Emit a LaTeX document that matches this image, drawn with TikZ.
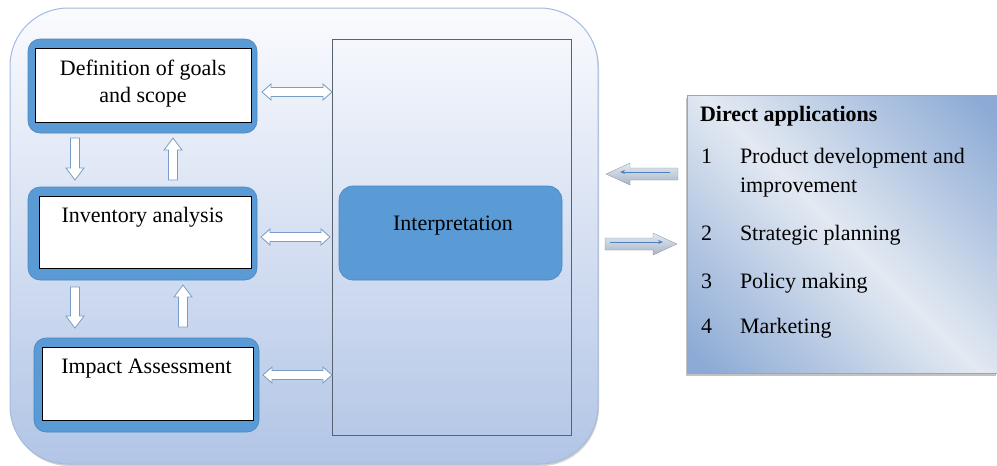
\documentclass[tikz,border=0pt]{standalone}
\usepackage{fontspec}
\setmainfont{Liberation Serif}
\usetikzlibrary{calc,shadows,arrows.meta}

\definecolor{stageblue}{HTML}{5B9BD5}
\definecolor{stagerim}{HTML}{4A86C0}
\definecolor{arrowrim}{HTML}{7A9CC6}
\definecolor{frameline}{HTML}{59636E}
\definecolor{bgtop}{HTML}{FAFBFE}
\definecolor{bgbottom}{HTML}{B2C5E6}
\definecolor{bgrim}{HTML}{A3BADF}
\definecolor{appdark}{HTML}{8CAAD5}
\definecolor{applight}{HTML}{E3E9F2}
\definecolor{appedge}{HTML}{8CA8D2}
\definecolor{flattop}{HTML}{E4EAF2}
\definecolor{flatbottom}{HTML}{A7B4C7}
\definecolor{flatline}{HTML}{4F81BD}

% diagonal fade for the applications panel: dark corners, light band
\pgfdeclarehorizontalshading{appfade}{100bp}{color(0bp)=(appdark); color(17bp)=(appdark); color(50bp)=(applight); color(83bp)=(appdark); color(100bp)=(appdark)}

\tikzset{
  every node/.style={inner sep=0pt, outer sep=0pt},
  stagebox/.style={draw=stagerim, line width=0.6pt, fill=stageblue,
    rounded corners=12pt, anchor=north west},
  stagecard/.style={draw=black, line width=1pt, fill=white, anchor=north west},
  stagetext/.style={anchor=base},
  apptext/.style={anchor=base west},
  % hollow double-headed block arrow between two points at the same height
  dblblock/.style={draw=arrowrim, line width=0.8pt, fill=white,
    to path={let \p1=(\tikztostart), \p2=(\tikztotarget) in
      (\x1,\y1) -- (\x1+9pt,\y1+8pt) -- (\x1+9pt,\y1+4.5pt) -- (\x2-9pt,\y1+4.5pt)
      -- (\x2-9pt,\y1+8pt) -- (\x2,\y1) -- (\x2-9pt,\y1-8pt) -- (\x2-9pt,\y1-4.5pt)
      -- (\x1+9pt,\y1-4.5pt) -- (\x1+9pt,\y1-8pt) -- cycle}},
  % hollow vertical block arrow, pointing from start to target
  vblock/.style={draw=arrowrim, line width=0.8pt, fill=white,
    to path={let \p1=(\tikztostart), \p2=(\tikztotarget), \n1={sign(\y2-\y1)} in
      (\x1-4.5pt,\y1) -- (\x1-4.5pt,\y2-\n1*12pt) -- (\x1-9pt,\y2-\n1*12pt)
      -- (\x1,\y2) -- (\x1+9pt,\y2-\n1*12pt) -- (\x1+4.5pt,\y2-\n1*12pt)
      -- (\x1+4.5pt,\y1) -- cycle}},
  % flat shaded arrow between the main block and the panel
  flatblock/.style={draw=flatbottom!80!black, line width=0.3pt,
    top color=flattop, bottom color=flatbottom,
    to path={let \p1=(\tikztostart), \p2=(\tikztotarget), \n1={sign(\x2-\x1)} in
      (\x1,\y1+6pt) -- (\x2-\n1*24pt,\y1+6pt) -- (\x2-\n1*24pt,\y1+11pt)
      -- (\x2,\y1) -- (\x2-\n1*24pt,\y1-11pt) -- (\x2-\n1*24pt,\y1-6pt)
      -- (\x1,\y1-6pt) -- cycle}},
  flatstroke/.style={draw=flatline, line width=0.9pt,
    -{Stealth[length=5pt,width=4pt]}},
}

\begin{document}
\begin{tikzpicture}[x=1pt, y=-1pt, font=\fontsize{22}{26}\selectfont]
\useasboundingbox (0,0) rectangle (997,466);

% life cycle assessment block
\node[draw=bgrim, line width=1pt, top color=bgtop, bottom color=bgbottom,
  rounded corners=58pt, minimum width=588pt, minimum height=456pt,
  anchor=north west,
  drop shadow={shadow xshift=1pt, shadow yshift=-2pt, fill=gray!70, opacity=0.5}]
  (outer) at (10,8) {};

% stages
\node[stagebox, minimum width=229pt, minimum height=94pt] (b1) at (28,39) {};
\node[stagecard, minimum width=216pt, minimum height=74pt] (t1) at (35,48) {};
\node[stagetext] (t1a) at ($(t1.north)+(0,27)$) {Definition of goals};
\node[stagetext] (t1b) at ($(t1.north)+(0,54)$) {and scope};

\node[stagebox, minimum width=229pt, minimum height=93pt] (b2) at (28,187) {};
\node[stagecard, minimum width=212pt, minimum height=72pt] (t2) at (39,196) {};
\node[stagetext] (t2a) at ($(t2.north)+(-2.5,26)$) {Inventory analysis};

\node[stagebox, minimum width=225pt, minimum height=94pt] (b3) at (34,338) {};
\node[stagecard, minimum width=211pt, minimum height=73pt] (t3) at (42,347) {};
\node[stagetext] (t3a) at ($(t3.north)+(-1,26)$) {Impact Assessment};

% interpretation column
\node[draw=frameline, line width=0.8pt, minimum width=239pt, minimum height=396pt,
  anchor=north west] (frame) at (332,39) {};
\node[draw=stagerim, line width=0.6pt, fill=stageblue, rounded corners=14pt,
  minimum width=223pt, minimum height=94pt, anchor=north west] (ip) at (339,186) {};
\node[stagetext] (ipa) at ($(ip.north)+(2.5,44)$) {Interpretation};

% stage <-> interpretation
\draw[dblblock] ($(b1.east)+(5,6)$) to ($(frame.west |- b1.east)+(0,6)$);
\draw[dblblock] ($(b2.east)+(4,3.5)$) to ($(frame.west |- b2.east)+(-2,3.5)$);
\draw[dblblock] ($(b3.east)+(4,-10)$) to ($(frame.west |- b3.east)+(0,-10)$);

% stage to stage
\draw[vblock] ($(b1.south west)+(47,5)$) to ($(b2.north west)+(47,-7)$);
\draw[vblock] ($(b2.north west)+(145,-7)$) to ($(b1.south west)+(145,5)$);
\draw[vblock] ($(b2.south west)+(47,7)$) to ($(b3.north west)+(41,-10)$);
\draw[vblock] ($(b3.north west)+(149,-11)$) to ($(b2.south west)+(155,5)$);

% direct applications panel
\node[draw=appedge, line width=0.6pt, shading=appfade, shading angle=45,
  minimum width=310pt, minimum height=278pt, anchor=north west,
  drop shadow={shadow xshift=-1.5pt, shadow yshift=-3pt, fill=gray!80, opacity=0.6}]
  (panel) at (687,95) {};
\node[apptext, font=\fontsize{22}{26}\selectfont\bfseries] (appt) at ($(panel.north west)+(13,26)$) {Direct applications};
\node[apptext] (n1) at ($(panel.north west)+(14,68)$) {1};
\node[apptext] (a1) at ($(panel.north west)+(53,68)$) {Product development and};
\node[apptext] (a1b) at ($(panel.north west)+(53,97)$) {improvement};
\node[apptext] (n2) at ($(panel.north west)+(14,145)$) {2};
\node[apptext] (a2) at ($(panel.north west)+(53,145)$) {Strategic planning};
\node[apptext] (n3) at ($(panel.north west)+(14,193)$) {3};
\node[apptext] (a3) at ($(panel.north west)+(53,193)$) {Policy making};
\node[apptext] (n4) at ($(panel.north west)+(14,238)$) {4};
\node[apptext] (a4) at ($(panel.north west)+(53,238)$) {Marketing};

% exchange between the assessment and its applications
\draw[flatblock] ($(panel.north west)+(-9,79)$) to ($(outer.north east)+(8,166)$);
\draw[flatstroke] ($(panel.north west)+(-17,77)$) -- ($(outer.north east)+(22,164)$);
\draw[flatblock] ($(outer.north east)+(7,236)$) to ($(panel.north west)+(-10,149)$);
\draw[flatstroke] ($(outer.north east)+(12,234)$) -- ($(panel.north west)+(-24,147)$);
\end{tikzpicture}
\end{document}
